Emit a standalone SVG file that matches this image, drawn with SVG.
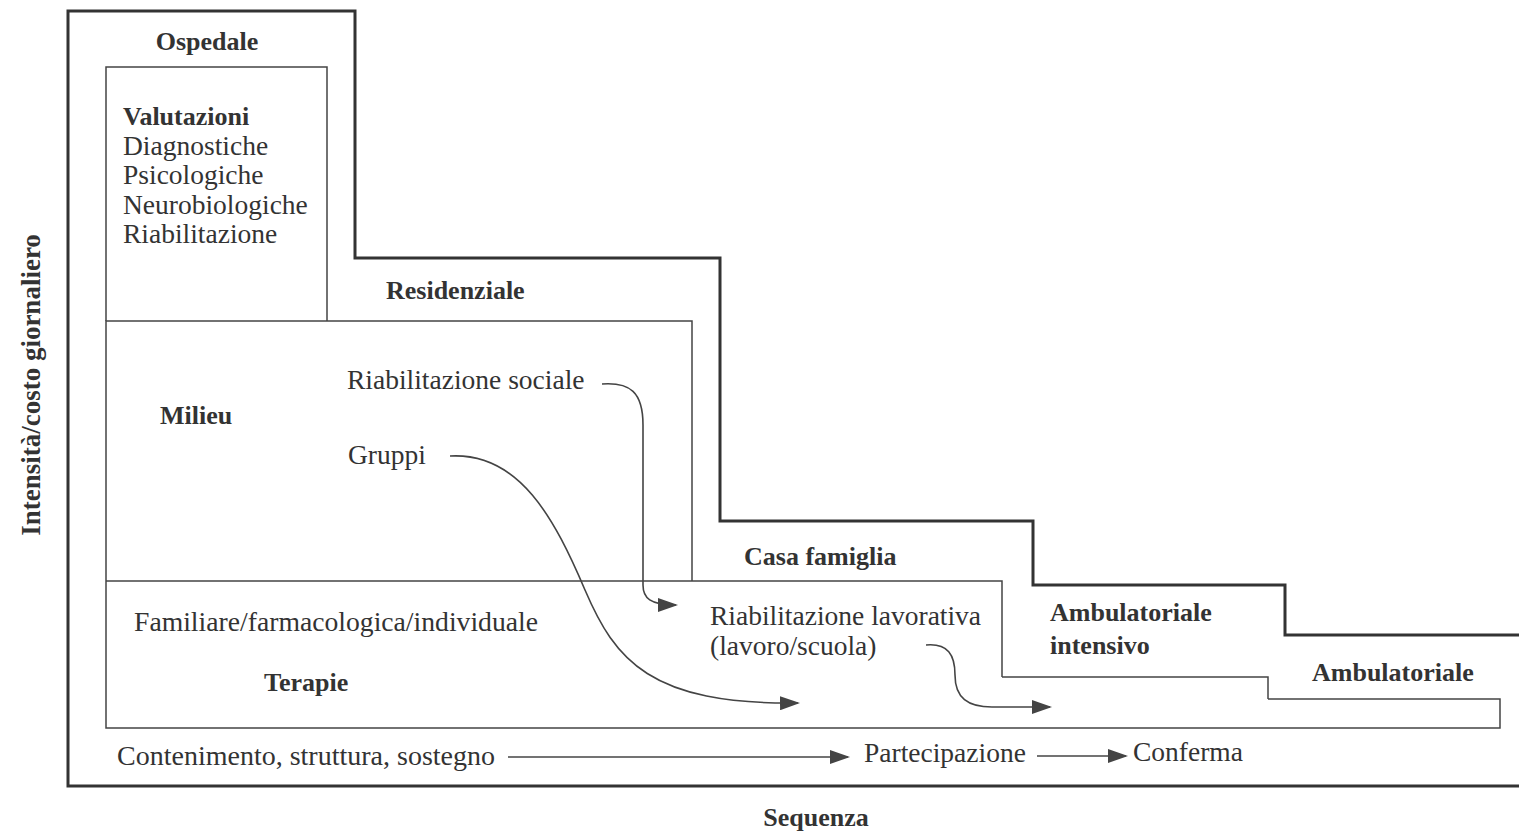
<svg xmlns="http://www.w3.org/2000/svg" width="1519" height="833" viewBox="0 0 1519 833">
<style>
text{font-family:"Liberation Serif","DejaVu Serif",serif;fill:#333;font-size:27.5px}
.b{font-weight:bold;font-size:26px}
.v{font-weight:bold;font-size:27px}
.thick{fill:none;stroke:#333;stroke-width:3}
.thin{fill:none;stroke:#444;stroke-width:1.5}
.conn{fill:none;stroke:#444;stroke-width:1.6}
</style>
<defs>
<marker id="ah" viewBox="0 0 20 14" refX="18" refY="7" markerWidth="20" markerHeight="14" markerUnits="userSpaceOnUse" orient="auto">
<path d="M0,0 L20,7 L0,14 Z" fill="#444"/>
</marker>
</defs>
<rect width="1519" height="833" fill="#fff"/>

<g id="frame">
<path class="thick" d="M1519,786 L68,786 L68,11 L355,11 L355,258 L720,258 L720,521 L1033,521 L1033,585 L1285,585 L1285,635 L1519,635"/>
<text class="b" x="816" y="826" text-anchor="middle">Sequenza</text>
<text class="v" transform="translate(40,385) rotate(-90)" text-anchor="middle">Intensità/costo giornaliero</text>
</g>

<g id="ospedale">
<text class="b" x="207" y="50" text-anchor="middle">Ospedale</text>
<path class="thin" d="M106,321 L106,67 L327,67 L327,321"/>
<text class="b" x="123" y="125">Valutazioni</text>
<text x="123" y="155">Diagnostiche</text>
<text x="123" y="184">Psicologiche</text>
<text x="123" y="214">Neurobiologiche</text>
<text x="123" y="243">Riabilitazione</text>
</g>

<g id="residenziale">
<text class="b" x="386" y="299">Residenziale</text>
<path class="thin" d="M106,581 L106,321 L692,321 L692,581"/>
<text class="b" x="160" y="424">Milieu</text>
<text x="347" y="389">Riabilitazione sociale</text>
<text x="348" y="464">Gruppi</text>
</g>

<g id="casa-famiglia">
<text class="b" x="744" y="565">Casa famiglia</text>
<path class="thin" d="M106,581 L1002,581 L1002,677"/>
<text x="134" y="631" textLength="404" lengthAdjust="spacingAndGlyphs">Familiare/farmacologica/individuale</text>
<text class="b" x="264" y="691">Terapie</text>
<text x="710" y="625">Riabilitazione lavorativa</text>
<text x="710" y="655">(lavoro/scuola)</text>
</g>

<g id="ambulatoriale-intensivo">
<path class="thin" d="M1002,677 L1268,677 L1268,699"/>
<text class="b" x="1050" y="621">Ambulatoriale</text>
<text class="b" x="1050" y="654">intensivo</text>
</g>

<g id="ambulatoriale">
<path class="thin" d="M106,581 L106,728 L1500,728 L1500,699 L1268,699"/>
<text class="b" x="1312" y="681">Ambulatoriale</text>
</g>

<g id="sequenza">
<text x="117" y="765" textLength="378" lengthAdjust="spacingAndGlyphs">Contenimento, struttura, sostegno</text>
<text x="864" y="762">Partecipazione</text>
<text x="1133" y="761">Conferma</text>
</g>

<g id="connectors">
<path class="conn" marker-end="url(#ah)" d="M602,384 C630,382 643,392 643,425 L643,585 C643,598 650,605 676,605"/>
<path class="conn" marker-end="url(#ah)" d="M450,456 C520,452 555,520 585,590 C615,660 650,705 798,703"/>
<path class="conn" marker-end="url(#ah)" d="M926,645 C948,643 955,655 955,675 C955,698 968,707 992,707 L1050,707"/>
<path class="conn" marker-end="url(#ah)" d="M508,757 L848,757"/>
<path class="conn" marker-end="url(#ah)" d="M1037,756 L1126,756"/>
</g>
</svg>
